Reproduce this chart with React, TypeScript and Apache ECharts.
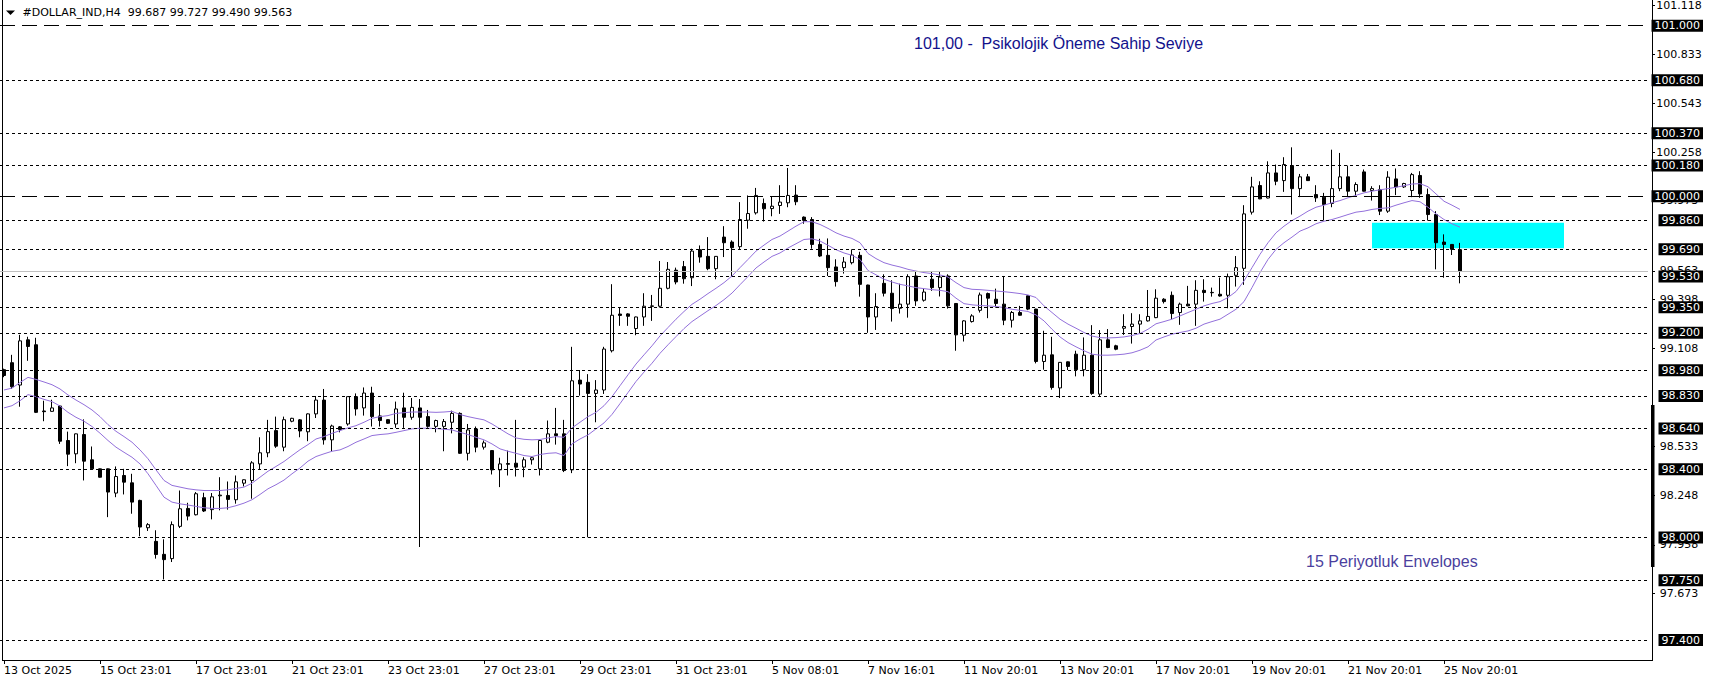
import React, { useEffect, useRef } from "react";
import * as echarts from "echarts";

const tickLabels = [
  "13 Oct 2025", "15 Oct 23:01", "17 Oct 23:01", "21 Oct 23:01", "23 Oct 23:01", "27 Oct 23:01",
  "29 Oct 23:01", "31 Oct 23:01", "5 Nov 08:01", "7 Nov 16:01", "11 Nov 20:01", "13 Nov 20:01",
  "17 Nov 20:01", "19 Nov 20:01", "21 Nov 20:01", "25 Nov 20:01",
];

const opens = [
  98.984, 99.025, 98.894, 99.159, 99.130, 98.742, 98.740, 98.771, 98.569, 98.491,
  98.604, 98.456, 98.403, 98.403, 98.261, 98.364, 98.321, 98.218, 98.058, 97.978,
  97.902, 97.877, 98.066, 98.171, 98.134, 98.234, 98.164, 98.245, 98.247, 98.222,
  98.319, 98.335, 98.432, 98.497, 98.627, 98.530, 98.682, 98.690, 98.620, 98.725,
  98.806, 98.573, 98.649, 98.666, 98.826, 98.760, 98.847, 98.713, 98.691, 98.666,
  98.760, 98.705, 98.760, 98.709, 98.652, 98.652, 98.676, 98.728, 98.494, 98.637,
  98.530, 98.510, 98.397, 98.434, 98.436, 98.413, 98.456, 98.403, 98.559, 98.608,
  98.608, 98.397, 98.923, 98.910, 98.845, 98.865, 99.095, 99.310, 99.311, 99.225,
  99.293, 99.355, 99.356, 99.461, 99.567, 99.588, 99.523, 99.687, 99.648, 99.576,
  99.761, 99.732, 99.705, 99.860, 99.903, 99.958, 99.928, 99.946, 99.962, 100.007,
  99.878, 99.864, 99.718, 99.654, 99.586, 99.582, 99.611, 99.654, 99.480, 99.293,
  99.490, 99.432, 99.344, 99.368, 99.533, 99.391, 99.514, 99.465, 99.533, 99.372,
  99.186, 99.266, 99.332, 99.430, 99.397, 99.368, 99.274, 99.319, 99.417, 99.339,
  99.032, 99.071, 98.877, 99.030, 99.075, 98.984, 99.069, 98.841, 99.159, 99.124,
  99.227, 99.237, 99.251, 99.270, 99.289, 99.397, 99.420, 99.319, 99.368, 99.368,
  99.449, 99.437, 99.426, 99.420, 99.537, 99.578, 99.907, 100.063, 99.990, 100.137,
  100.092, 100.180, 100.045, 100.114, 100.010, 99.995, 99.958, 100.045, 100.114, 100.030,
  100.143, 100.034, 100.040, 99.913, 100.102, 100.055, 100.034, 100.122, 100.010, 99.893,
  99.732, 99.718, 99.687,
];

const closes = [
  98.950, 98.884, 99.153, 99.120, 98.734, 98.738, 98.760, 98.565, 98.489, 98.608,
  98.448, 98.403, 98.354, 98.267, 98.358, 98.325, 98.208, 98.062, 98.076, 97.901,
  97.871, 98.076, 98.169, 98.126, 98.257, 98.156, 98.239, 98.249, 98.224, 98.327,
  98.339, 98.438, 98.497, 98.621, 98.536, 98.691, 98.699, 98.625, 98.725, 98.806,
  98.573, 98.654, 98.633, 98.826, 98.754, 98.847, 98.709, 98.686, 98.670, 98.754,
  98.705, 98.763, 98.705, 98.652, 98.686, 98.680, 98.728, 98.494, 98.631, 98.530,
  98.555, 98.397, 98.432, 98.430, 98.413, 98.456, 98.468, 98.569, 98.608, 98.598,
  98.393, 98.919, 98.900, 98.845, 98.865, 99.105, 99.303, 99.302, 99.297, 99.293,
  99.356, 99.358, 99.461, 99.572, 99.498, 99.517, 99.679, 99.644, 99.576, 99.648,
  99.728, 99.699, 99.864, 99.899, 100.005, 99.927, 99.942, 99.966, 100.005, 99.968,
  99.859, 99.718, 99.650, 99.582, 99.500, 99.615, 99.656, 99.484, 99.293, 99.354,
  99.432, 99.342, 99.368, 99.529, 99.387, 99.439, 99.465, 99.527, 99.358, 99.188,
  99.270, 99.299, 99.422, 99.403, 99.372, 99.274, 99.319, 99.303, 99.339, 99.032,
  99.069, 98.880, 99.027, 99.003, 98.984, 99.069, 98.845, 99.159, 99.114, 99.104,
  99.237, 99.251, 99.270, 99.296, 99.403, 99.383, 99.313, 99.368, 99.358, 99.449,
  99.436, 99.435, 99.416, 99.529, 99.582, 99.897, 100.055, 99.985, 100.137, 100.088,
  100.186, 100.045, 100.114, 100.092, 99.991, 99.952, 100.045, 100.114, 100.030, 100.069,
  100.030, 100.045, 99.913, 100.112, 100.055, 100.075, 100.127, 100.014, 99.893, 99.728,
  99.718, 99.689, 99.563,
];

const lows = [
  98.940, 98.871, 98.767, 99.036, 98.730, 98.682, 98.738, 98.549, 98.419, 98.436,
  98.335, 98.400, 98.352, 98.120, 98.237, 98.253, 98.140, 98.008, 98.039, 97.877,
  97.755, 97.857, 98.056, 98.101, 98.130, 98.150, 98.107, 98.160, 98.164, 98.199,
  98.300, 98.228, 98.397, 98.471, 98.526, 98.506, 98.676, 98.588, 98.565, 98.701,
  98.545, 98.506, 98.617, 98.656, 98.715, 98.715, 98.651, 98.651, 98.666, 98.643,
  98.643, 98.691, 97.945, 98.643, 98.617, 98.506, 98.611, 98.491, 98.452, 98.500,
  98.516, 98.370, 98.296, 98.364, 98.358, 98.354, 98.428, 98.364, 98.553, 98.545,
  98.384, 98.378, 98.832, 98.002, 98.676, 98.842, 99.085, 99.241, 99.241, 99.186,
  99.241, 99.270, 99.348, 99.455, 99.484, 99.488, 99.474, 99.611, 99.567, 99.514,
  99.644, 99.527, 99.686, 99.810, 99.893, 99.852, 99.883, 99.897, 99.936, 99.948,
  99.839, 99.693, 99.644, 99.533, 99.471, 99.547, 99.601, 99.412, 99.200, 99.217,
  99.413, 99.266, 99.313, 99.289, 99.358, 99.383, 99.446, 99.413, 99.342, 99.095,
  99.149, 99.260, 99.319, 99.286, 99.348, 99.245, 99.231, 99.301, 99.333, 99.021,
  98.984, 98.867, 98.818, 98.982, 98.945, 98.945, 98.837, 98.826, 99.110, 99.098,
  99.188, 99.137, 99.196, 99.266, 99.286, 99.372, 99.280, 99.247, 99.356, 99.241,
  99.383, 99.412, 99.412, 99.344, 99.471, 99.481, 99.893, 99.983, 99.988, 100.065,
  100.026, 99.893, 99.995, 100.090, 99.967, 99.858, 99.936, 100.030, 100.001, 100.001,
  100.028, 99.975, 99.890, 99.903, 100.007, 100.049, 99.995, 99.991, 99.858, 99.572,
  99.523, 99.656, 99.490,
];

const highs = [
  98.990, 99.071, 99.188, 99.177, 99.171, 98.802, 98.808, 98.777, 98.621, 98.610,
  98.693, 98.534, 98.405, 98.405, 98.417, 98.403, 98.374, 98.222, 98.085, 98.043,
  97.990, 98.095, 98.276, 98.204, 98.267, 98.263, 98.261, 98.354, 98.329, 98.364,
  98.341, 98.448, 98.588, 98.690, 98.709, 98.709, 98.702, 98.695, 98.728, 98.830,
  98.871, 98.662, 98.654, 98.828, 98.845, 98.880, 98.884, 98.783, 98.693, 98.797,
  98.849, 98.818, 98.812, 98.748, 98.691, 98.695, 98.744, 98.734, 98.666, 98.651,
  98.569, 98.512, 98.468, 98.510, 98.690, 98.471, 98.471, 98.571, 98.686, 98.760,
  98.690, 99.118, 98.982, 98.958, 98.923, 99.118, 99.485, 99.348, 99.315, 99.295,
  99.432, 99.422, 99.621, 99.615, 99.582, 99.621, 99.693, 99.712, 99.761, 99.650,
  99.825, 99.742, 99.966, 100.005, 100.049, 99.987, 100.001, 100.065, 100.166, 100.065,
  99.882, 99.878, 99.751, 99.753, 99.631, 99.644, 99.689, 99.675, 99.482, 99.432,
  99.543, 99.508, 99.488, 99.543, 99.562, 99.459, 99.558, 99.558, 99.543, 99.374,
  99.274, 99.309, 99.436, 99.436, 99.459, 99.533, 99.328, 99.358, 99.419, 99.341,
  99.212, 99.177, 99.029, 99.032, 99.095, 99.173, 99.245, 99.216, 99.222, 99.130,
  99.309, 99.315, 99.309, 99.451, 99.455, 99.403, 99.442, 99.377, 99.475, 99.508,
  99.514, 99.465, 99.524, 99.547, 99.650, 99.948, 100.114, 100.088, 100.205, 100.186,
  100.229, 100.287, 100.131, 100.131, 100.065, 100.020, 100.273, 100.254, 100.180, 100.082,
  100.157, 100.059, 100.065, 100.147, 100.163, 100.079, 100.137, 100.147, 100.045, 99.913,
  99.777, 99.720, 99.727,
];

const envUpper = [
  98.865, 98.876, 98.909, 98.939, 98.927, 98.912, 98.896, 98.871, 98.836, 98.806,
  98.779, 98.748, 98.709, 98.662, 98.623, 98.592, 98.559, 98.514, 98.462, 98.397,
  98.335, 98.306, 98.296, 98.286, 98.280, 98.276, 98.276, 98.276, 98.280, 98.288,
  98.296, 98.319, 98.354, 98.389, 98.417, 98.446, 98.481, 98.515, 98.545, 98.578,
  98.592, 98.611, 98.627, 98.643, 98.656, 98.676, 98.699, 98.709, 98.715, 98.728,
  98.732, 98.736, 98.736, 98.736, 98.734, 98.736, 98.740, 98.721, 98.709, 98.699,
  98.690, 98.666, 98.637, 98.608, 98.584, 98.576, 98.573, 98.575, 98.584, 98.592,
  98.588, 98.643, 98.676, 98.709, 98.734, 98.773, 98.826, 98.890, 98.954, 99.017,
  99.071, 99.124, 99.182, 99.231, 99.280, 99.325, 99.367, 99.397, 99.430, 99.461,
  99.494, 99.533, 99.582, 99.630, 99.679, 99.714, 99.747, 99.767, 99.796, 99.825,
  99.851, 99.851, 99.835, 99.812, 99.786, 99.767, 99.753, 99.728, 99.665, 99.635,
  99.611, 99.597, 99.586, 99.572, 99.562, 99.553, 99.547, 99.539, 99.527, 99.494,
  99.465, 99.455, 99.453, 99.449, 99.445, 99.441, 99.436, 99.430, 99.422, 99.407,
  99.358, 99.319, 99.280, 99.251, 99.227, 99.202, 99.181, 99.172, 99.170, 99.172,
  99.176, 99.184, 99.196, 99.221, 99.253, 99.266, 99.280, 99.299, 99.319, 99.338,
  99.358, 99.372, 99.383, 99.407, 99.442, 99.504, 99.582, 99.660, 99.728, 99.786,
  99.825, 99.858, 99.884, 99.913, 99.936, 99.948, 99.962, 99.975, 99.991, 100.006,
  100.020, 100.030, 100.038, 100.045, 100.053, 100.062, 100.072, 100.074, 100.056, 100.014,
  99.971, 99.948, 99.923,
];

const envLower = [
  98.760, 98.773, 98.802, 98.838, 98.826, 98.810, 98.797, 98.771, 98.734, 98.705,
  98.682, 98.651, 98.612, 98.569, 98.530, 98.500, 98.471, 98.432, 98.374, 98.306,
  98.237, 98.208, 98.198, 98.191, 98.183, 98.175, 98.171, 98.171, 98.175, 98.187,
  98.202, 98.222, 98.253, 98.286, 98.310, 98.337, 98.374, 98.408, 98.448, 98.475,
  98.491, 98.506, 98.514, 98.534, 98.559, 98.578, 98.598, 98.604, 98.608, 98.617,
  98.627, 98.637, 98.641, 98.641, 98.639, 98.635, 98.631, 98.617, 98.604, 98.588,
  98.573, 98.549, 98.520, 98.506, 98.494, 98.481, 98.475, 98.487, 98.494, 98.497,
  98.481, 98.549, 98.578, 98.602, 98.637, 98.672, 98.722, 98.785, 98.850, 98.915,
  98.970, 99.022, 99.080, 99.130, 99.178, 99.225, 99.266, 99.298, 99.330, 99.360,
  99.394, 99.433, 99.482, 99.530, 99.580, 99.615, 99.648, 99.668, 99.697, 99.722,
  99.747, 99.751, 99.738, 99.713, 99.687, 99.668, 99.654, 99.630, 99.565, 99.540,
  99.514, 99.498, 99.484, 99.475, 99.465, 99.459, 99.453, 99.449, 99.441, 99.403,
  99.371, 99.364, 99.360, 99.358, 99.354, 99.348, 99.338, 99.332, 99.325, 99.305,
  99.270, 99.221, 99.176, 99.143, 99.118, 99.095, 99.075, 99.069, 99.069, 99.071,
  99.075, 99.083, 99.098, 99.118, 99.158, 99.176, 99.192, 99.202, 99.211, 99.227,
  99.251, 99.266, 99.280, 99.309, 99.338, 99.383, 99.465, 99.553, 99.630, 99.689,
  99.728, 99.761, 99.796, 99.815, 99.839, 99.854, 99.864, 99.878, 99.893, 99.907,
  99.913, 99.923, 99.929, 99.932, 99.948, 99.962, 99.975, 99.968, 99.936, 99.897,
  99.864, 99.839, 99.819,
];

const axisPriceLabels = [101.118, 100.833, 100.543, 100.258, 99.973, 99.563, 99.398, 99.108, 98.533, 98.248, 97.958, 97.673];
const levelPrices = [101.0, 100.68, 100.37, 100.18, 100.0, 99.86, 99.69, 99.53, 99.35, 99.2, 98.98, 98.83, 98.64, 98.4, 98.0, 97.75, 97.4];
const longDashLevels = [101.0, 100.0];
const currentPrice = 99.563;
const zoneTop = 99.845;
const zoneBottom = 99.695;
const zoneStart = 171;
const zoneEnd = 195;
const slotCount = 206;
const priceMin = 97.2829;
const priceMax = 101.1403;

const headerText = "#DOLLAR_IND,H4  99.687 99.727 99.490 99.563";
const levelNote = "101,00 -  Psikolojik Öneme Sahip Seviye";
const envelopeNote = "15 Periyotluk Envelopes";

export default function App() {
  const ref = useRef<HTMLDivElement>(null);

  useEffect(() => {
    if (!ref.current) return;
    const chart = echarts.init(ref.current, null, { renderer: "svg", width: 1709, height: 684 });
    const cats = Array.from({ length: slotCount }, (_, i) => String(i));
    const showTick = (i: number) => i % 12 === 0 && i / 12 < tickLabels.length;
    const candles = opens.map((o, i) => [o, closes[i], lows[i], highs[i]]);
    const font = "DejaVu Sans";

    const levelLines: any[] = levelPrices.map((v) => ({
      yAxis: v,
      lineStyle: {
        color: "#000",
        width: 1,
        type: longDashLevels.includes(v) ? [15, 7] : [3, 3],
      },
    }));
    levelLines.push({ yAxis: currentPrice, lineStyle: { color: "#c0c0c0", width: 1, type: "solid" } });

    const option: any = {
      animation: false,
      backgroundColor: "#ffffff",
      textStyle: { fontFamily: font },
      grid: { left: 0, top: 0, width: slotCount * 8, height: 660, containLabel: false },
      xAxis: {
        type: "category",
        data: cats,
        boundaryGap: true,
        axisLine: { show: false },
        axisTick: {
          show: true,
          alignWithLabel: true,
          interval: (i: number) => showTick(i),
          length: 4,
          lineStyle: { color: "#000", width: 1 },
        },
        axisLabel: {
          show: true,
          interval: (i: number) => showTick(i),
          formatter: (v: string) => tickLabels[Number(v) / 12] ?? "",
          align: "left",
          margin: 5,
          fontSize: 11,
          color: "#000",
          fontFamily: font,
        },
        splitLine: { show: false },
      },
      yAxis: [
        {
          type: "value",
          min: priceMin,
          max: priceMax,
          position: "right",
          offset: 4,
          axisLine: { show: false },
          axisTick: { show: true, customValues: axisPriceLabels, length: 3, lineStyle: { color: "#000" } },
          axisLabel: {
            customValues: axisPriceLabels,
            formatter: (v: number) => v.toFixed(3),
            align: "center",
            margin: 27,
            fontSize: 11,
            color: "#000",
            fontFamily: font,
          },
          splitLine: { show: false },
        },
        {
          type: "value",
          min: priceMin,
          max: priceMax,
          position: "right",
          offset: 4,
          axisLine: { show: false },
          axisTick: { show: false },
          axisLabel: {
            customValues: levelPrices,
            formatter: (v: number) => v.toFixed(3),
            align: "right",
            margin: 51,
            fontSize: 11,
            lineHeight: 11,
            color: "#ffffff",
            backgroundColor: "#000000",
            padding: [1, 3, 0, 3],
            fontFamily: font,
          },
          splitLine: { show: false },
        },
      ],
      series: [
        {
          type: "candlestick",
          data: candles,
          barWidth: 4,
          itemStyle: {
            color: "#ffffff",
            color0: "#000000",
            borderColor: "#000000",
            borderColor0: "#000000",
            borderColorDoji: "#000000",
            borderWidth: 1,
          },
          markArea: {
            silent: true,
            itemStyle: { color: "#00ffff", opacity: 1 },
            data: [[{ xAxis: zoneStart, yAxis: zoneTop }, { xAxis: zoneEnd, yAxis: zoneBottom }]],
          },
          markLine: {
            silent: true,
            symbol: ["none", "none"],
            label: { show: false },
            data: levelLines,
          },
        },
        {
          type: "line",
          data: envUpper,
          symbol: "none",
          lineStyle: { color: "#9370db", width: 1 },
          itemStyle: { color: "#9370db" },
        },
        {
          type: "line",
          data: envLower,
          symbol: "none",
          lineStyle: { color: "#9370db", width: 1 },
          itemStyle: { color: "#9370db" },
        },
      ],
      graphic: [
        { type: "line", shape: { x1: 2.5, y1: 0, x2: 2.5, y2: 661 }, style: { stroke: "#000", lineWidth: 1 } },
        { type: "line", shape: { x1: 2, y1: 660.5, x2: 1653, y2: 660.5 }, style: { stroke: "#000", lineWidth: 1 } },
        { type: "line", shape: { x1: 1652.5, y1: 0, x2: 1652.5, y2: 661 }, style: { stroke: "#000", lineWidth: 1 } },
        { type: "rect", shape: { x: 1651, y: 405, width: 3.5, height: 162 }, style: { fill: "#000" } },
        {
          type: "polygon",
          shape: { points: [[6, 10.5], [15, 10.5], [10.5, 15]] },
          style: { fill: "#000" },
        },
        {
          type: "text",
          x: 22.5,
          y: 12.5,
          style: { text: headerText, fill: "#000", font: `11px '${font}'`, textVerticalAlign: "middle", verticalAlign: "middle" },
        },
        {
          type: "text",
          x: 914,
          y: 43,
          style: { text: levelNote, fill: "#12128c", font: "16px 'Liberation Sans'", verticalAlign: "middle" },
        },
        {
          type: "text",
          x: 1306,
          y: 561,
          style: { text: envelopeNote, fill: "#4b3f9e", font: "16px 'Liberation Sans'", verticalAlign: "middle" },
        },
      ],
    };

    chart.setOption(option);
    return () => chart.dispose();
  }, []);

  return (
    <div
      ref={ref}
      style={{ position: "fixed", left: 0, top: 0, width: 1709, height: 684, background: "#ffffff" }}
    />
  );
}
